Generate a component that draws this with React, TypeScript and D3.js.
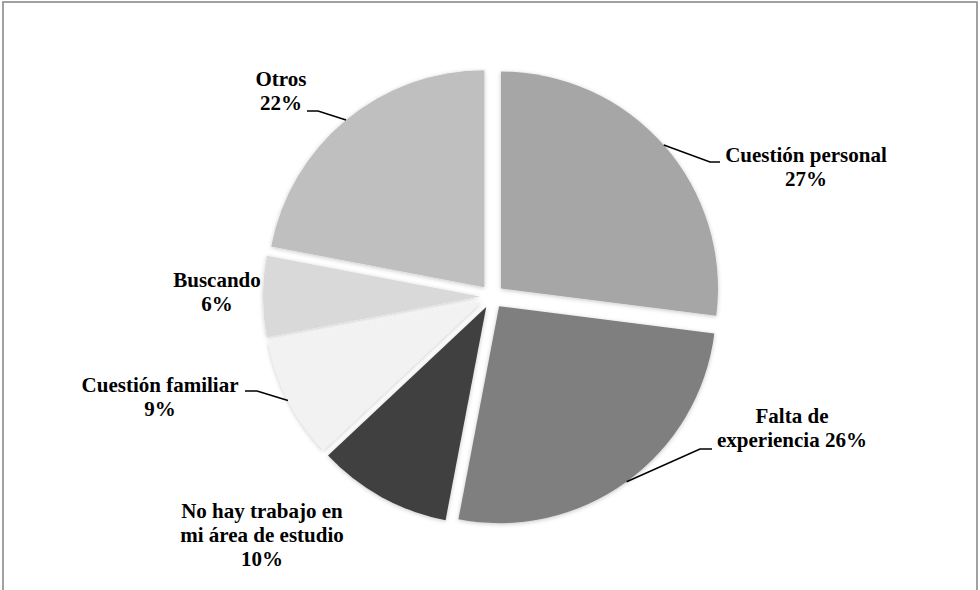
import React from "react";
import * as d3 from "d3";

const categories = [
  "Cuestión personal",
  "Falta de experiencia",
  "No hay trabajo en mi área de estudio",
  "Cuestión familiar",
  "Buscando",
  "Otros",
];
const values = [27, 26, 10, 9, 6, 22];
const colors = ["#a6a6a6", "#7f7f7f", "#404040", "#f2f2f2", "#d9d9d9", "#bfbfbf"];
const labelLines = [
  ["Cuestión personal", "27%"],
  ["Falta de", "experiencia 26%"],
  ["No hay trabajo en", "mi área de estudio", "10%"],
  ["Cuestión familiar", "9%"],
  ["Buscando", "6%"],
  ["Otros", "22%"],
];

// layout (label anchors, leader elbows)
const labelPos: [number, number][] = [
  [806, 162],
  [792, 423],
  [262, 518],
  [160, 392],
  [217, 287],
  [281, 86],
];
const leaders: ([number, number][] | null)[] = [
  [[710, 162], [720, 162]],
  [[700, 449], [712, 449]],
  null,
  [[257, 391], [245, 391]],
  null,
  [[318, 111], [307, 111]],
];

const W = 980;
const H = 590;
const CX = 492;
const CY = 296.5;
const R = 217;
const EXPLODE = 12;
const LINE_H = 24;

export default function App() {
  const pie = d3.pie<number>().sort(null).value((d) => d);
  const arcs = pie(values);
  const arcGen = d3.arc<d3.PieArcDatum<number>>().innerRadius(0).outerRadius(R);

  return (
    <svg
      width={W}
      height={H}
      style={{ position: "absolute", left: 0, top: 0, background: "#fff" }}
    >
      <defs>
        <filter id="sh" x="-20%" y="-20%" width="140%" height="140%">
          <feDropShadow dx="0" dy="1" stdDeviation="2.2" floodColor="#000" floodOpacity="0.22" />
        </filter>
      </defs>
      <rect x={3} y={2} width={974} height={620} fill="#fff" stroke="#8a8a8a" strokeWidth={1.6} />
      {arcs.map((a, i) => {
        const mid = (a.startAngle + a.endAngle) / 2;
        const ox = CX + EXPLODE * Math.sin(mid);
        const oy = CY - EXPLODE * Math.cos(mid);
        return (
          <g key={categories[i]} transform={`translate(${ox},${oy})`}>
            <path d={arcGen(a) || ""} fill={colors[i]} filter="url(#sh)" />
          </g>
        );
      })}
      {arcs.map((a, i) => {
        const L = leaders[i];
        if (!L) return null;
        const mid = (a.startAngle + a.endAngle) / 2;
        const ox = CX + EXPLODE * Math.sin(mid);
        const oy = CY - EXPLODE * Math.cos(mid);
        const sx = ox + R * Math.sin(mid);
        const sy = oy - R * Math.cos(mid);
        const pts: [number, number][] = [[sx, sy], ...L];
        return (
          <path
            key={"l" + i}
            d={d3.line()(pts) || ""}
            fill="none"
            stroke="#000"
            strokeWidth={1.5}
          />
        );
      })}
      {labelLines.map((lines, i) => (
        <text
          key={"t" + i}
          x={labelPos[i][0]}
          y={labelPos[i][1]}
          textAnchor="middle"
          fontFamily="'Liberation Serif', 'Times New Roman', serif"
          fontWeight="bold"
          fontSize={21}
          fill="#000"
        >
          {lines.map((ln, j) => (
            <tspan key={j} x={labelPos[i][0]} y={labelPos[i][1] + j * LINE_H}>
              {ln}
            </tspan>
          ))}
        </text>
      ))}
    </svg>
  );
}
